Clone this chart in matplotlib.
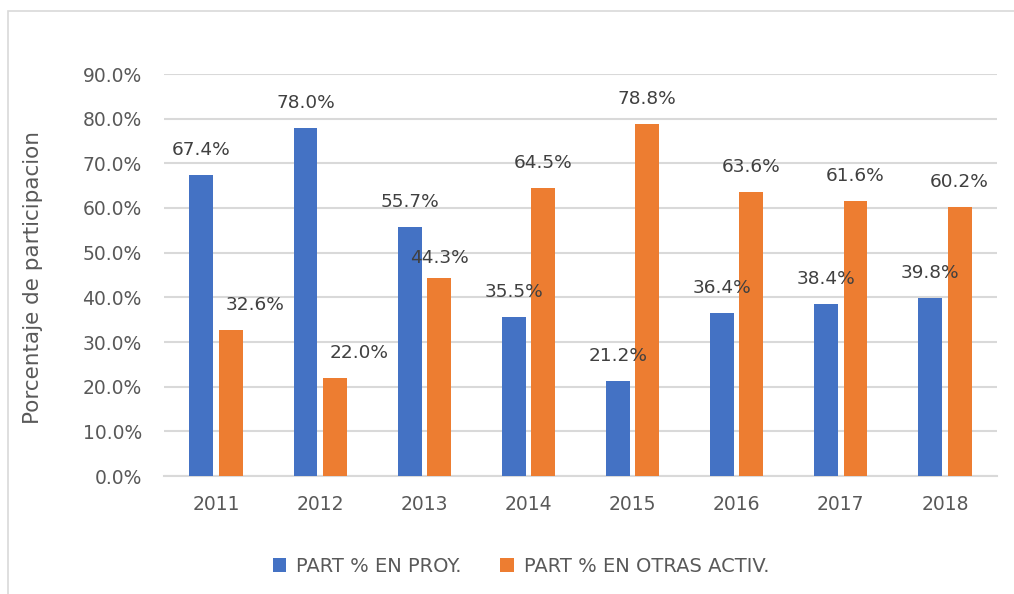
import numpy as np
import matplotlib.pyplot as plt
from matplotlib.patches import Rectangle

# data
years = ["2011", "2012", "2013", "2014", "2015", "2016", "2017", "2018"]
part_proy = [67.4, 78.0, 55.7, 35.5, 21.2, 36.4, 38.4, 39.8]
part_otras = [32.6, 22.0, 44.3, 64.5, 78.8, 63.6, 61.6, 60.2]
series_names = ["PART % EN PROY.", "PART % EN OTRAS ACTIV."]

blue = "#4472C4"
orange = "#ED7D31"
grid_c = "#D9D9D9"
text_c = "#595959"
label_c = "#404040"

plt.rcParams['font.family'] = ['DejaVu Sans']

fig = plt.figure(figsize=(10.14, 5.94), dpi=100)
ax = fig.add_axes([164 / 1014, 1 - 476 / 594, (997 - 164) / 1014, (476 - 74) / 594])

x = np.arange(len(years))
w = 0.23
off = 0.141
b1 = ax.bar(x - off, np.array(part_proy) / 100, w, color=blue, label=series_names[0], zorder=3)
b2 = ax.bar(x + off, np.array(part_otras) / 100, w, color=orange, label=series_names[1], zorder=3)

# data labels (a few orange labels sit shifted, like in the original)
nudge_orange = {0: (24, 0), 1: (24, 0), 2: (0, -5)}
for i, v in enumerate(part_proy):
    ax.annotate(f"{v:.1f}%", (x[i] - off, v / 100), xytext=(0, 18), textcoords="offset points",
                ha="center", va="center", fontsize=13.3, color=label_c, zorder=4)
for i, v in enumerate(part_otras):
    dx, dy = nudge_orange.get(i, (0, 0))
    ax.annotate(f"{v:.1f}%", (x[i] + off, v / 100), xytext=(dx * 0.72, 18 + dy * 0.72),
                textcoords="offset points", ha="center", va="center", fontsize=13.3,
                color=label_c, zorder=4)

ax.set_xlim(-0.5, len(years) - 0.5)
ax.set_ylim(0, 0.9)
ax.set_yticks(np.arange(0, 0.91, 0.1))
ax.set_yticklabels([f"{t * 100:.1f}%" for t in np.arange(0, 0.91, 0.1)])
ax.set_xticks(x)
ax.set_xticklabels(years)
ax.tick_params(axis="both", length=0, labelsize=13.5, colors=text_c)
ax.tick_params(axis="y", pad=16)
ax.tick_params(axis="x", pad=14)
ax.yaxis.grid(True, color=grid_c, linewidth=1.5, zorder=0)
for s in ["top", "right", "left"]:
    ax.spines[s].set_visible(False)
ax.spines["bottom"].set_color(grid_c)
ax.spines["bottom"].set_linewidth(1.5)

fig.text(33 / 1014, 1 - 278 / 594, "Porcentaje de participacion", rotation=90,
         ha="center", va="center", fontsize=15.5, color=text_c)

fig.legend(handles=[b1, b2], loc="center", bbox_to_anchor=(521 / 1014, 1 - 566 / 594), ncol=2,
           frameon=False, fontsize=14, labelcolor=text_c, handlelength=0.7, handleheight=0.7,
           handletextpad=0.5, columnspacing=2.0)

# chart area border (only left and top edges are visible)
fig.patches.append(Rectangle((8, -100), 1200, 594 - 11 + 100, transform=None, fill=False,
                             edgecolor=grid_c, linewidth=1.2))

fig.savefig("out.png", dpi=100, facecolor="white")
